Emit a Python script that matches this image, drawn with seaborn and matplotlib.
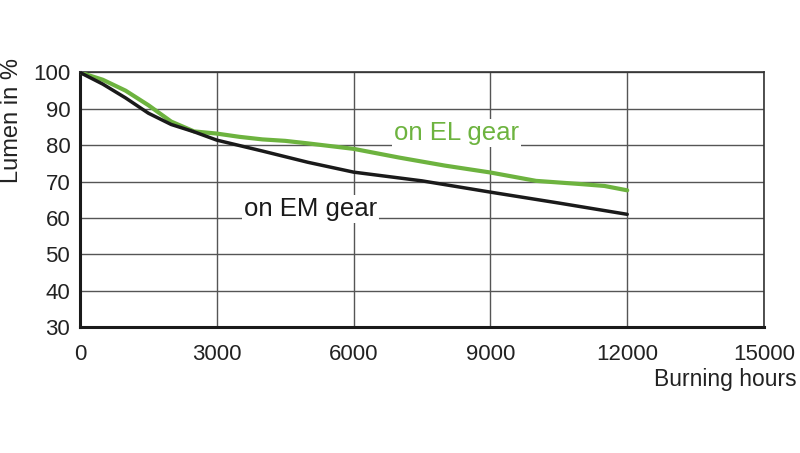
import pandas as pd
import seaborn as sns
from matplotlib import pyplot as plt

# values
el_hours = [0, 500, 1000, 1500, 2000, 2500, 3000, 3500, 4000, 4500, 5000, 6000,
            7000, 8000, 9000, 10000, 11000, 11500, 12000]
el_lumen = [100, 98, 95, 91, 86.5, 83.8, 83.2, 82.3, 81.6, 81.2, 80.5, 79,
            76.6, 74.4, 72.5, 70.2, 69.3, 68.8, 67.6]

em_hours = [0, 500, 1000, 1500, 2000, 2500, 3000, 4000, 5000, 6000, 7500,
            9000, 10500, 12000]
em_lumen = [100, 96.8, 93, 88.8, 85.7, 83.7, 81.4, 78.4, 75.3, 72.6, 70.2,
            67.1, 64.1, 61]

x_ticks = [0, 3000, 6000, 9000, 12000, 15000]
y_ticks = [30, 40, 50, 60, 70, 80, 90, 100]

GREEN = "#6db33f"


def main():
    el_df = pd.DataFrame({"hours": el_hours, "lumen": el_lumen})
    em_df = pd.DataFrame({"hours": em_hours, "lumen": em_lumen})

    sns.set_style("white")
    plt.rcParams["font.family"] = ["Liberation Sans", "DejaVu Sans"]

    fig = plt.figure(figsize=(8, 4.53), dpi=100)
    ax = fig.add_axes([0.1, 0.278, 0.855, 0.562])

    sns.lineplot(data=em_df, x="hours", y="lumen", color="#1a1a1a",
                 linewidth=2.5, ax=ax, zorder=4)
    sns.lineplot(data=el_df, x="hours", y="lumen", color=GREEN,
                 linewidth=3, ax=ax, zorder=3)

    ax.set_xlim(0, 15000)
    ax.set_ylim(30, 100)
    ax.set_xticks(x_ticks)
    ax.set_yticks(y_ticks)
    ax.grid(True, color="#555555", linewidth=1)
    ax.set_axisbelow(True)
    for side in ["top", "right"]:
        ax.spines[side].set_color("#333333")
        ax.spines[side].set_linewidth(1.2)
    for side in ["left", "bottom"]:
        ax.spines[side].set_color("#1a1a1a")
        ax.spines[side].set_linewidth(2.2)

    ax.tick_params(axis="both", length=0, labelsize=16, colors="#222222")
    ax.tick_params(axis="x", pad=12)
    ax.tick_params(axis="y", pad=7)

    ax.set_xlabel("Burning hours", fontsize=16.5, color="#222222")
    ax.xaxis.set_label_coords(1.048, -0.16)
    ax.xaxis.label.set_ha("right")
    ax.xaxis.label.set_va("top")

    ax.set_ylabel("Lumen in %", fontsize=17, color="#222222")
    ax.yaxis.set_label_coords(-0.099, 1.055)
    ax.yaxis.label.set_va("center")
    ax.yaxis.label.set_ha("right")

    box = dict(facecolor="white", edgecolor="none", pad=1.5)
    ax.text(6880, 83.4, "on EL gear", color=GREEN, fontsize=18.5,
            ha="left", va="center", bbox=box, zorder=5)
    ax.text(3590, 62.5, "on EM gear", color="#1a1a1a", fontsize=18.5,
            ha="left", va="center", bbox=box, zorder=5)

    fig.savefig("out.png", dpi=100, facecolor="white")


if __name__ == "__main__":
    main()
